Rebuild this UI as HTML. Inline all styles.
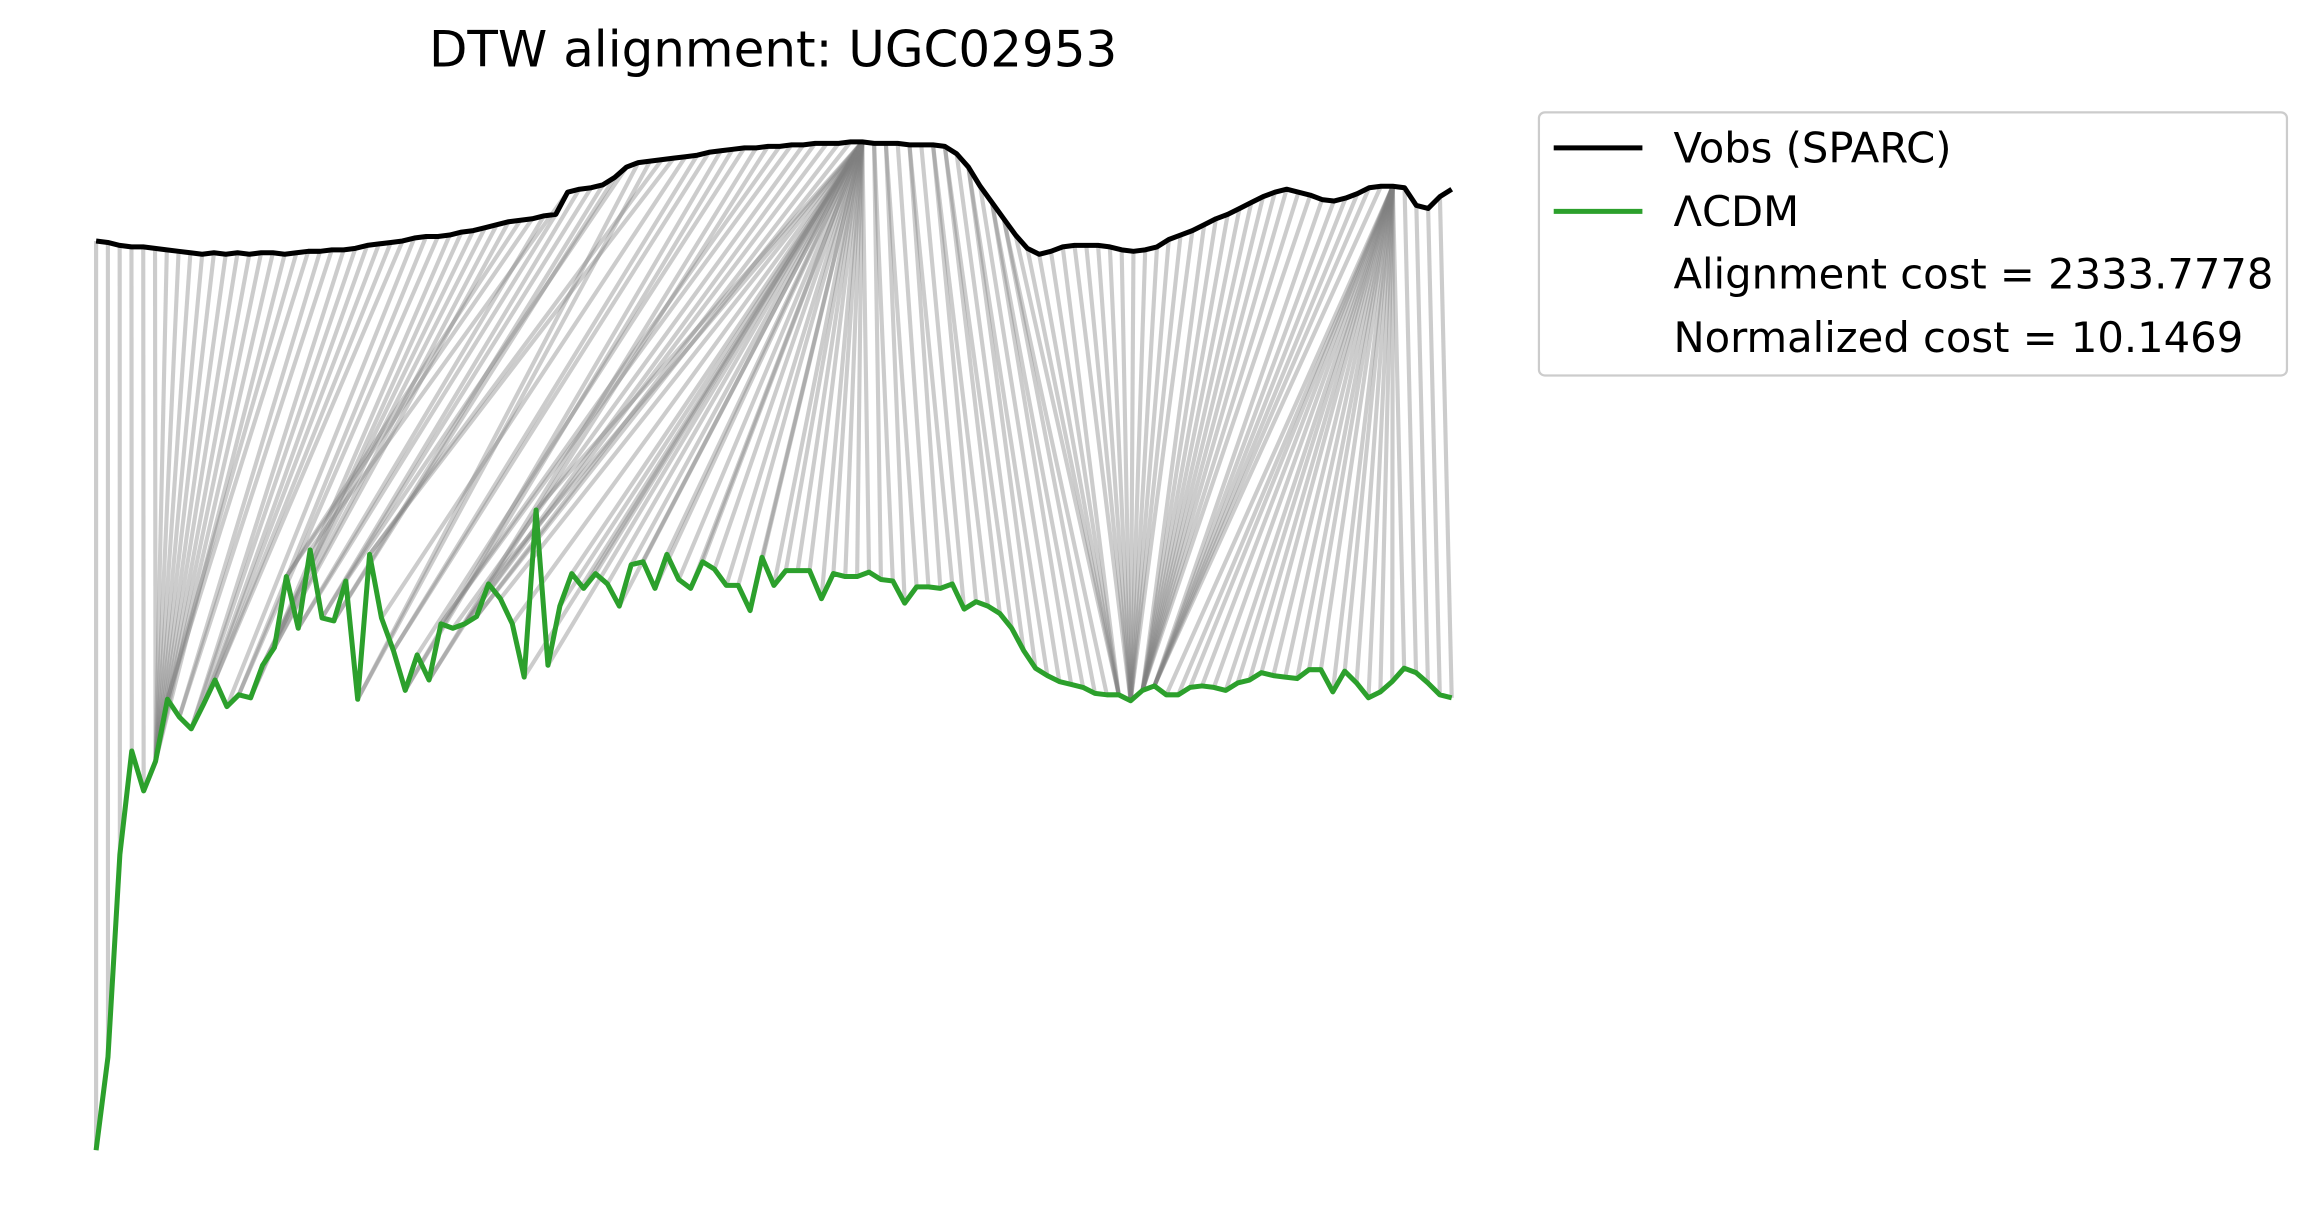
<!DOCTYPE html>
<html><head><meta charset="utf-8"><style>
html,body{margin:0;padding:0;background:#fff;}
svg{display:block;}
text{font-family:"DejaVu Sans","Liberation Sans",sans-serif;}
</style></head><body>
<svg id="chart" width="2318" height="1231" viewBox="0 0 1568 832.7" preserveAspectRatio="none" xmlns="http://www.w3.org/2000/svg">
<rect width="1568" height="833" fill="#fff"/>
<text x="523" y="45" text-anchor="middle" font-size="33.8">DTW alignment: UGC02953</text>
<g id="links"></g>
<g id="series"></g>
<g>
<rect x="1041" y="76" width="506" height="178" rx="4" fill="#fff" stroke="#ccc" stroke-width="1.5"/>
<line x1="1051" y1="100" x2="1111" y2="100" stroke="#000" stroke-width="3.4"/>
<text x="1132" y="110" font-size="28.2">Vobs (SPARC)</text>
<line x1="1051" y1="143" x2="1111" y2="143" stroke="#2ca02c" stroke-width="3.4"/>
<text x="1132" y="153" font-size="28.2">ΛCDM</text>
<text x="1132" y="195" font-size="28.2">Alignment cost = 2333.7778</text>
<text x="1132" y="238" font-size="28.2">Normalized cost = 10.1469</text>
</g>
</svg>
<script>
const vobs = [637,636,634,633,633,632,631,630,629,628,629,628,629,628,629,629,628,629,630,630,631,631,632,634,635,636,637,639,640,640,641,643,644,646,648,650,651,652,654,655,670,672,673,675,680,687,690,691,692,693,694,695,697,698,699,700,700,701,701,702,702,703,703,703,704,704,703,703,703,702,702,702,701,696,687,674,663,652,641,632,628,630,633,634,634,634,633,631,630,631,633,638,641,644,648,652,655,659,663,667,670,672,670,668,665,664,666,669,673,674,674,673,661,659,667,672];
const lcdm = [22,85,222,292,265,285,327,315,307,323,340,322,330,328,350,362,410,375,428,382,380,407,327,425,382,360,333,357,340,378,375,378,383,405,395,378,342,455,350,390,412,402,412,405,390,418,420,402,425,408,402,420,415,404,404,387,423,404,414,414,414,395,412,410,410,413,408,407,392,403,403,402,405,388,393,390,385,375,360,348,343,339,337,335,331,330,330,326,333,336,330,330,335,336,335,333,338,340,345,343,342,341,347,347,332,346,338,328,332,339,348,345,338,330,328];
// warping-path anchor index pairs [vobs index, lcdm index]
const pathAnchors = [[0,0],[5,5],[16,5],[40,18],[65,33],[65,65],[78,86],[88,87],[109,89],[110,90],[110,110],[114,114]];
const xMin = 65, xMax = 982;
function xPos(i, n){ return xMin + (xMax - xMin) * i / (n - 1); }
function yPos(v){ return 800 - v; }
function buildPath(anchors){
  const out=[anchors[0].slice()];
  for(let k=1;k<anchors.length;k++){
    const [i0,j0]=anchors[k-1],[i1,j1]=anchors[k];
    const steps=Math.max(i1-i0,j1-j0);
    for(let s=1;s<=steps;s++){
      out.push([Math.round(i0+(i1-i0)*s/steps),Math.round(j0+(j1-j0)*s/steps)]);
    }
  }
  return out;
}
const NS='http://www.w3.org/2000/svg';
const links=document.getElementById('links');
const path=buildPath(pathAnchors);
path.forEach(([i,j])=>{
  const ln=document.createElementNS(NS,'line');
  ln.setAttribute('x1',xPos(i,vobs.length));
  ln.setAttribute('y1',yPos(vobs[i]));
  ln.setAttribute('x2',xPos(j,lcdm.length));
  ln.setAttribute('y2',yPos(lcdm[j]));
  ln.setAttribute('stroke','#808080');
  ln.setAttribute('stroke-opacity','0.4');
  ln.setAttribute('stroke-width','2.8');
  
  
  links.appendChild(ln);
});
const series=document.getElementById('series');
function drawLine(arr,color,name){
  const p=document.createElementNS(NS,'polyline');
  p.setAttribute('points',arr.map((v,i)=>xPos(i,arr.length).toFixed(2)+','+yPos(v).toFixed(2)).join(' '));
  p.setAttribute('fill','none');
  p.setAttribute('stroke',color);
  p.setAttribute('stroke-width','3.4');
  p.setAttribute('stroke-linejoin','round');
  
  
  series.appendChild(p);
}
drawLine(vobs,'#000','vobs-line');
drawLine(lcdm,'#2ca02c','lcdm-line');
</script>
</body></html>
